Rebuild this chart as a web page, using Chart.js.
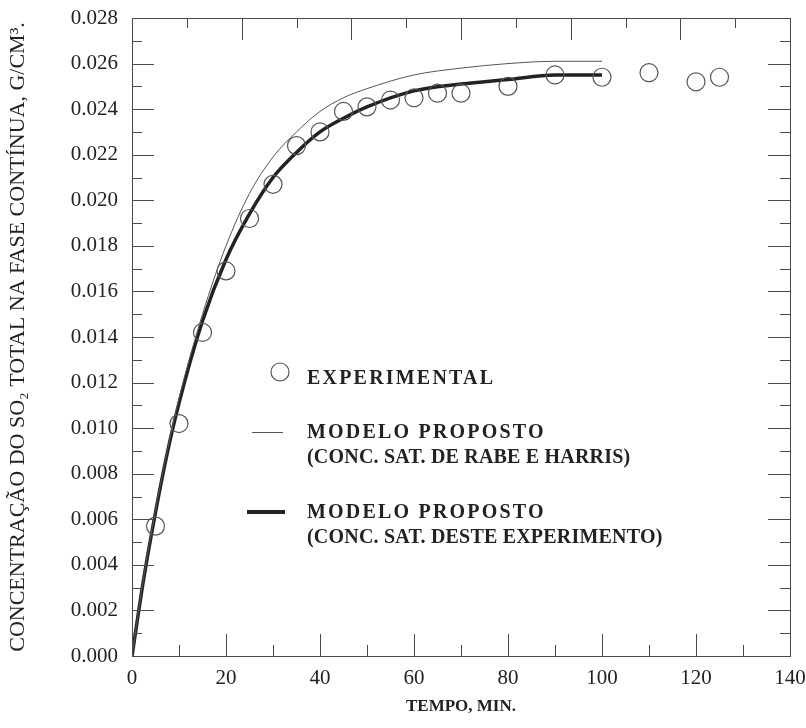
<!DOCTYPE html>
<html>
<head>
<meta charset="utf-8">
<script src="https://cdn.jsdelivr.net/npm/chart.js@4.4.1/dist/chart.umd.min.js"></script>
<style>
  html, body { margin: 0; padding: 0; background: #fff; }
  #box { width: 806px; height: 728px; }
</style>
</head>
<body>
<div id="box"><canvas id="grafico" width="806" height="728"></canvas></div>
<script>
// pontos experimentais (tempo em min, concentração em g/cm3)
const tempoExp = [5, 10, 15, 20, 25, 30, 35, 40, 45, 50, 55, 60, 65, 70, 80, 90, 100, 110, 120, 125];
const concExp = [0.0057, 0.0102, 0.0142, 0.0169, 0.0192, 0.0207, 0.0224, 0.0230, 0.0239, 0.0241, 0.0244, 0.0245, 0.0247, 0.0247, 0.0250, 0.0255, 0.0254, 0.0256, 0.0252, 0.0254];

// curvas do modelo
const tempoModelo = [0, 2.5, 5, 7.5, 10, 15, 20, 25, 30, 35, 40, 45, 50, 60, 70, 80, 90, 100];
const concRabeHarris = [0, 0.0035, 0.0064, 0.0090, 0.0113, 0.0150, 0.0180, 0.0203, 0.0219, 0.0230, 0.0239, 0.0245, 0.0249, 0.0255, 0.0258, 0.0260, 0.0261, 0.0261];
const concExperimento = [0, 0.0034, 0.0063, 0.0089, 0.0111, 0.0147, 0.0174, 0.0194, 0.0210, 0.0221, 0.0230, 0.0236, 0.0241, 0.0248, 0.0251, 0.0253, 0.0255, 0.0255];

// rótulos dos eixos
const xTicks = [0, 20, 40, 60, 80, 100, 120, 140];
const yTicks = [0, 0.002, 0.004, 0.006, 0.008, 0.010, 0.012, 0.014, 0.016, 0.018, 0.020, 0.022, 0.024, 0.026, 0.028];

const fonteSerif = '"Liberation Serif", "Times New Roman", serif';

function pares(xs, ys) {
    return xs.map((x, i) => ({ x: x, y: ys[i] }));
}

// moldura com marcas para dentro e legenda no interior do gráfico
const moldura = {
    id: 'moldura',
    afterDraw(chart) {
        const ctx = chart.ctx;
        const a = chart.chartArea;
        const sx = chart.scales.x, sy = chart.scales.y, sx2 = chart.scales.x2;
        ctx.save();
        ctx.strokeStyle = '#4a4a4a';
        ctx.lineWidth = 1;
        ctx.strokeRect(Math.round(a.left) + 0.5, Math.round(a.top) + 0.5, Math.round(a.width), Math.round(a.height));

        ctx.beginPath();
        // esquerda e direita: a cada 0.001
        for (let i = 0; i <= 28; i++) {
            const py = Math.round(sy.getPixelForValue(i / 1000)) + 0.5;
            const len = i % 2 === 0 ? 22 : 10;
            ctx.moveTo(a.left, py); ctx.lineTo(a.left + len, py);
            ctx.moveTo(a.right, py); ctx.lineTo(a.right - len, py);
        }
        // embaixo: a cada 10 min
        for (let t = 0; t <= 140; t += 10) {
            const px = Math.round(sx.getPixelForValue(t)) + 0.5;
            const len = t % 20 === 0 ? 22 : 11;
            ctx.moveTo(px, a.bottom); ctx.lineTo(px, a.bottom - len);
        }
        // em cima: escala secundária
        for (let k = 0; k <= 12; k++) {
            const px = Math.round(sx2.getPixelForValue(k)) + 0.5;
            const len = k % 2 === 0 ? 22 : 10;
            ctx.moveTo(px, a.top); ctx.lineTo(px, a.top + len);
        }
        ctx.stroke();

        // legenda
        ctx.fillStyle = '#222';
        ctx.textBaseline = 'middle';
        const lx = a.left + 175;

        ctx.beginPath();
        ctx.strokeStyle = '#555';
        ctx.lineWidth = 1.2;
        ctx.arc(a.left + 148, a.top + 354, 9, 0, Math.PI * 2);
        ctx.stroke();

        ctx.beginPath();
        ctx.strokeStyle = '#555';
        ctx.lineWidth = 1;
        ctx.moveTo(a.left + 120, a.top + 414.5); ctx.lineTo(a.left + 151, a.top + 414.5);
        ctx.stroke();

        ctx.beginPath();
        ctx.strokeStyle = '#222';
        ctx.lineWidth = 4;
        ctx.moveTo(a.left + 115, a.top + 494); ctx.lineTo(a.left + 153, a.top + 494);
        ctx.stroke();

        ctx.font = 'bold 20px ' + fonteSerif;
        ctx.letterSpacing = '2.2px';
        ctx.fillText('EXPERIMENTAL', lx, a.top + 361);
        ctx.fillText('MODELO PROPOSTO', lx, a.top + 415);
        ctx.fillText('MODELO PROPOSTO', lx, a.top + 495);
        ctx.letterSpacing = '0.2px';
        ctx.fillText('(CONC. SAT. DE RABE E HARRIS)', lx, a.top + 440);
        ctx.fillText('(CONC. SAT. DESTE EXPERIMENTO)', lx, a.top + 520);
        ctx.restore();
    }
};

new Chart(document.getElementById('grafico').getContext('2d'), {
    type: 'scatter',
    data: {
        datasets: [
            {
                label: 'EXPERIMENTAL',
                data: pares(tempoExp, concExp),
                showLine: false,
                pointRadius: 9,
                pointBorderColor: '#555',
                pointBorderWidth: 1.2,
                pointBackgroundColor: 'rgba(0,0,0,0)'
            },
            {
                label: 'MODELO PROPOSTO (CONC. SAT. DE RABE E HARRIS)',
                data: pares(tempoModelo, concRabeHarris),
                showLine: true,
                cubicInterpolationMode: 'monotone',
                borderColor: '#555',
                borderWidth: 1,
                pointRadius: 0
            },
            {
                label: 'MODELO PROPOSTO (CONC. SAT. DESTE EXPERIMENTO)',
                data: pares(tempoModelo, concExperimento),
                showLine: true,
                cubicInterpolationMode: 'monotone',
                borderColor: '#222',
                borderWidth: 3.5,
                pointRadius: 0
            }
        ]
    },
    options: {
        responsive: false,
        animation: false,
        layout: { padding: { top: 18, right: 16, left: 0, bottom: 0 } },
        plugins: {
            legend: { display: false },
            tooltip: { enabled: false }
        },
        scales: {
            x: {
                type: 'linear',
                position: 'bottom',
                min: 0,
                max: 140,
                afterBuildTicks: s => { s.ticks = xTicks.map(v => ({ value: v })); },
                afterFit: s => { s.height = 72; s.paddingLeft = 0; s.paddingRight = 0; },
                grid: { display: false, drawTicks: false, tickLength: 0 },
                border: { display: false },
                ticks: {
                    padding: 10,
                    color: '#222',
                    font: { family: fonteSerif, size: 21 },
                    callback: v => String(v)
                },
                title: {
                    display: true,
                    text: 'TEMPO, MIN.',
                    color: '#222',
                    font: { family: fonteSerif, size: 17, weight: 'bold' },
                    padding: { top: 0, bottom: 11 }
                }
            },
            x2: {
                type: 'linear',
                position: 'top',
                min: 0,
                max: 12,
                display: false
            },
            y: {
                type: 'linear',
                position: 'left',
                min: 0,
                max: 0.028,
                afterBuildTicks: s => { s.ticks = yTicks.map(v => ({ value: v })); },
                afterFit: s => { s.width = 132; s.paddingTop = 0; s.paddingBottom = 0; },
                grid: { display: false, drawTicks: false, tickLength: 0 },
                border: { display: false },
                ticks: {
                    padding: 14,
                    color: '#222',
                    font: { family: fonteSerif, size: 21 },
                    callback: v => v.toFixed(3)
                },
                title: {
                    display: true,
                    text: 'CONCENTRAÇÃO DO SO₂ TOTAL NA FASE CONTÍNUA, G/CM³.',
                    color: '#222',
                    font: { family: fonteSerif, size: 22 },
                    padding: { top: 5, bottom: 0 }
                }
            }
        }
    },
    plugins: [moldura]
});
</script>
</body>
</html>
